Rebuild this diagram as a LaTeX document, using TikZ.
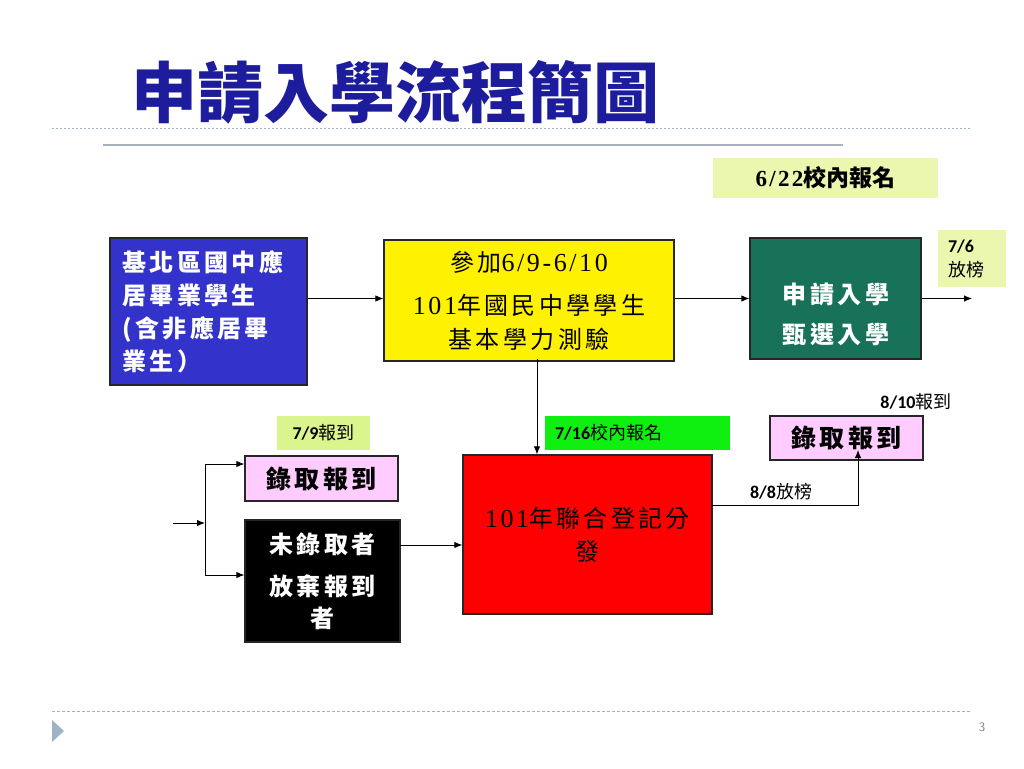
\documentclass[tikz,border=0pt]{standalone}
\usepackage{fontspec}
\usetikzlibrary{arrows.meta}
\setmainfont{Liberation Serif}
\newfontfamily\zhf{Noto Sans CJK TC}[LetterSpace=14]
\newfontfamily\zhn{Noto Sans CJK TC}
\newfontfamily\calf{Carlito}
\newfontfamily\digf{Liberation Serif}[LetterSpace=10]
\definecolor{titleblue}{HTML}{1C1C9C}
\definecolor{lyg}{HTML}{EBF7AF}
\definecolor{lyg2}{HTML}{DAF58E}
\definecolor{boxblue}{HTML}{3333CC}
\definecolor{boxgreen}{HTML}{177259}
\definecolor{brightgreen}{HTML}{10F010}
\definecolor{pinkbox}{HTML}{FFCCFF}
\definecolor{rule}{HTML}{A8B0C0}
\definecolor{dotc}{HTML}{9FB2C6}
\begin{document}
\begin{tikzpicture}[x=1pt,y=-1pt,
  frame/.style={draw=black!85, line width=1.3pt, inner sep=0pt},
  tag/.style={inner sep=0pt},
  arr/.style={-{Latex[length=8pt,width=6.5pt]}, line width=0.9pt},
  ln/.style={line width=0.9pt},
  bigtxt/.style={font=\fontsize{24}{33}\selectfont},
  labtxt/.style={font=\fontsize{18}{22}\selectfont}]
\useasboundingbox (0,0) rectangle (1024,768);
\fill[white] (0,0) rectangle (1024,768);
% title and rules
\node[inner sep=0pt, text=titleblue, font=\zhn\bfseries\fontsize{66}{66}\selectfont] (title) at (395,92) {申請入學流程簡圖};
\coordinate (dl1) at (52,128); \coordinate (dl2) at (972,128);
\draw[dotc, line width=1pt, dash pattern=on 2pt off 2pt] (dl1) -- (dl2);
\coordinate (gl1) at (103,145); \coordinate (gl2) at (843,145);
\draw[rule, line width=2pt] (gl1) -- (gl2);
\coordinate (bl1) at (52,711); \coordinate (bl2) at (972,711);
\draw[dotc, line width=1pt, dash pattern=on 3pt off 2pt] (bl1) -- (bl2);
\fill[dotc] (52,720) -- (64,731) -- (52,742) -- cycle;
\node[text=gray, font=\fontsize{13}{15}\selectfont\sffamily] (pg) at (982,727) {3};
% label boxes
\node[tag, fill=lyg, minimum width=225pt, minimum height=40pt, font=\fontsize{23}{26}\selectfont\bfseries] (r622) at (825.5,178) {{\digf 6/22}{\zhn 校內報名}};
\node[tag, fill=lyg, minimum width=68pt, minimum height=57pt, text width=48pt, align=left, font=\fontsize{18}{24}\selectfont] (r76) at (972,258.5) {{\calf\bfseries 7/6}\\{\zhn 放榜}};
\node[tag, fill=brightgreen, minimum width=185pt, minimum height=34pt, text width=165pt, align=left, labtxt] (r716) at (637.5,433) {{\calf\bfseries 7/16}{\zhn 校內報名}};
\node[tag, fill=lyg2, minimum width=93pt, minimum height=34pt, labtxt] (r79) at (323.5,433) {{\calf\bfseries 7/9}{\zhn 報到}};
\node[tag, labtxt] (r810) at (916,402) {{\calf\bfseries 8/10}{\zhn 報到}};
\node[tag, labtxt] (r88) at (781,492) {{\calf\bfseries 8/8}{\zhn 放榜}};
% main boxes
\node[frame, fill=boxblue, text=white, minimum width=197pt, minimum height=147pt, text width=172pt, align=left, bigtxt] (stu) at (208.5,311.5)
  {{\zhf\bfseries 基北區國中應}\\{\zhf\bfseries 居畢業學生}\\{\zhf\bfseries (含非應居畢}\\{\zhf\bfseries 業生）}};
\node[frame, fill=yellow, minimum width=290pt, minimum height=121pt, align=center, bigtxt] (exam) at (529,300.5)
  {{\zhf 參加}{\digf\fontsize{26}{33}\selectfont 6/9-6/10}\\[10pt]{\digf\fontsize{26}{33}\selectfont 101}{\zhf 年國民中學學生}\\[1pt]{\zhf 基本學力測驗}};
\node[frame, fill=boxgreen, minimum width=171pt, minimum height=121pt] (apply) at (835.5,298.5) {};
\node[inner sep=0pt, text=white, align=center, font=\fontsize{24}{40}\selectfont] (applyt) at (836,314)
  {{\zhf\bfseries 申請入學}\\{\zhf\bfseries 甄選入學}};
\node[frame, fill=red, minimum width=249pt, minimum height=159pt, align=center, bigtxt] (joint) at (587.5,534.5)
  {{\digf\fontsize{26}{33}\selectfont 101}{\zhf 年聯合登記分}\\{\zhf 發}};
\node[frame, fill=pinkbox, minimum width=153pt, minimum height=45pt, font=\fontsize{25}{33}\selectfont] (regL) at (321.5,478.5) {{\zhf\bfseries 錄取報到}};
\node[frame, fill=black, text=white, minimum width=155pt, minimum height=122pt, align=center, font=\fontsize{24}{37}\selectfont] (fail) at (322.5,581)
  {{\zhf\bfseries 未錄取者}\\[5pt]{\zhf\bfseries 放棄報到}\\[-5pt]{\zhf\bfseries 者}};
\node[frame, fill=pinkbox, minimum width=153pt, minimum height=44pt, font=\fontsize{25}{33}\selectfont] (regR) at (846.5,438) {{\zhf\bfseries 錄取報到}};
% connectors
\draw[arr] (stu.east |- apply.west) -- (exam.west |- apply.west);
\draw[arr] (exam.east |- apply.west) -- (apply.west);
\coordinate (out) at (972,298.5);
\draw[arr] (apply.east) -- (out);
\coordinate (ys) at (537,359);
\draw[arr] (ys) -- (ys |- joint.north);
\coordinate (inL) at (173,523);
\coordinate (split) at (205,523);
\coordinate (bt) at (205,464);
\coordinate (bb) at (205,575);
\draw[arr] (inL) -- (split);
\draw[ln] (bt) -- (bb);
\draw[arr] (bt) -- (bt -| regL.west);
\draw[arr] (bb) -- (bb -| fail.west);
\coordinate (be) at (400,545);
\draw[arr] (be) -- (be -| joint.west);
\coordinate (ro) at (712,505);
\coordinate (pt) at (858,450);
\draw[arr] (ro) -| (pt);
\end{tikzpicture}
\end{document}
